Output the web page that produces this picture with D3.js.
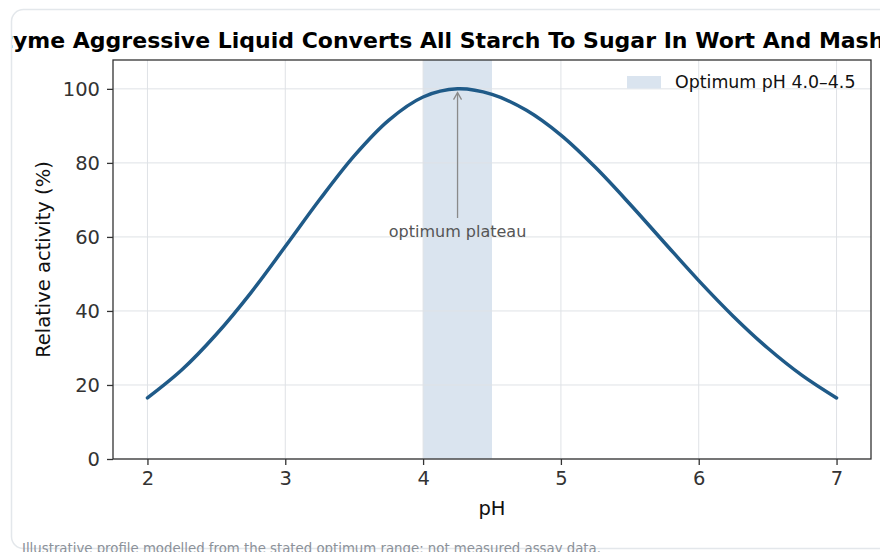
<!DOCTYPE html>
<html>
<head>
<meta charset="utf-8">
<script src="https://cdn.jsdelivr.net/npm/d3@7"></script>
<style>
  html, body { margin: 0; padding: 0; background: #fff; overflow: hidden; }
  svg { display: block; font-family: "DejaVu Sans", sans-serif; }
</style>
</head>
<body>
<svg id="chart" width="880" height="552"></svg>
<script>
// données
const phValues = [2.0, 2.25, 2.5, 2.75, 3.0, 3.25, 3.5, 3.75, 4.0, 4.25, 4.5,
                  4.75, 5.0, 5.25, 5.5, 5.75, 6.0, 6.25, 6.5, 6.75, 7.0];
const activity = [16.5, 24.1, 33.7, 44.9, 57.4, 70.1, 81.9, 91.5, 97.8, 100, 98.5,
                  94.2, 87.5, 78.8, 68.9, 58.5, 48.2, 38.6, 30.0, 22.6, 16.5];
const xTicks = [2, 3, 4, 5, 6, 7];
const yTicks = [0, 20, 40, 60, 80, 100];
const optimumBand = [4.0, 4.5];
const peak = [4.25, 99];

const titleText = "Enzyme Aggressive Liquid Converts All Starch To Sugar In Wort And Mash";
const legendText = "Optimum pH 4.0\u20134.5";
const noteText = "optimum plateau";
const footerText = "Illustrative profile modelled from the stated optimum range; not measured assay data.";

const svg = d3.select("#chart");

// cadre de la carte
svg.append("clipPath").attr("id", "cardClip")
    .append("rect").attr("x", 12).attr("y", 10).attr("width", 900).attr("height", 560);

svg.append("rect")
    .attr("x", 11.5).attr("y", 9.5)
    .attr("width", 900).attr("height", 539)
    .attr("rx", 12)
    .attr("fill", "none")
    .attr("stroke", "#e3e7eb")
    .attr("stroke-width", 1.5);

const m = { left: 113, right: 871, top: 60, bottom: 459 };

const x = d3.scaleLinear().domain([1.75, 7.25]).range([m.left, m.right]);
const y = d3.scaleLinear().domain([0, 107.8]).range([m.bottom, m.top]);

const g = svg.append("g");

// bande optimum
g.append("rect")
    .attr("x", x(optimumBand[0]))
    .attr("y", m.top)
    .attr("width", x(optimumBand[1]) - x(optimumBand[0]))
    .attr("height", m.bottom - m.top)
    .attr("fill", "#dae4ef");

// grille
g.selectAll(".gx").data(xTicks).join("line")
    .attr("x1", d => x(d)).attr("x2", d => x(d))
    .attr("y1", m.top).attr("y2", m.bottom)
    .attr("stroke", "#dfe2e6").attr("stroke-width", 1);
g.selectAll(".gy").data(yTicks).join("line")
    .attr("x1", m.left).attr("x2", m.right)
    .attr("y1", d => y(d)).attr("y2", d => y(d))
    .attr("stroke", "#dfe2e6").attr("stroke-width", 1);

// courbe
const pts = phValues.map((p, i) => [p, activity[i]]);
const line = d3.line()
    .x(d => x(d[0]))
    .y(d => y(d[1]))
    .curve(d3.curveCatmullRom.alpha(0.5));

g.append("path")
    .datum(pts)
    .attr("d", line)
    .attr("fill", "none")
    .attr("stroke", "#1f5a88")
    .attr("stroke-width", 3.5)
    .attr("stroke-linecap", "round");

// annotation
const ax = x(peak[0]);
g.append("line")
    .attr("x1", ax).attr("x2", ax)
    .attr("y1", 218).attr("y2", y(peak[1]))
    .attr("stroke", "#8a8a8a").attr("stroke-width", 1.3);
g.append("path")
    .attr("d", `M${ax - 4},${y(peak[1]) + 7} L${ax},${y(peak[1])} L${ax + 4},${y(peak[1]) + 7}`)
    .attr("fill", "none").attr("stroke", "#8a8a8a").attr("stroke-width", 1.3);
g.append("text")
    .attr("x", ax).attr("y", 237)
    .attr("text-anchor", "middle")
    .attr("font-size", 16)
    .attr("fill", "#555")
    .text(noteText);

// cadre des axes
g.append("rect")
    .attr("x", m.left).attr("y", m.top)
    .attr("width", m.right - m.left).attr("height", m.bottom - m.top)
    .attr("fill", "none").attr("stroke", "#333").attr("stroke-width", 1.3);

// axes
const xAxis = g.append("g")
    .attr("transform", `translate(0,${m.bottom})`)
    .call(d3.axisBottom(x).tickValues(xTicks).tickFormat(d3.format("d")).tickSize(6).tickPadding(6));
const yAxis = g.append("g")
    .attr("transform", `translate(${m.left},0)`)
    .call(d3.axisLeft(y).tickValues(yTicks).tickFormat(d3.format("d")).tickSize(6).tickPadding(7));

[xAxis, yAxis].forEach(a => {
    a.select(".domain").remove();
    a.selectAll(".tick line").attr("stroke", "#333").attr("stroke-width", 1.3);
    a.selectAll(".tick text")
        .attr("font-family", "DejaVu Sans, sans-serif")
        .attr("font-size", 19.5)
        .attr("fill", "#333");
});

// titres des axes
svg.append("text")
    .attr("x", (m.left + m.right) / 2).attr("y", 515)
    .attr("text-anchor", "middle")
    .attr("font-size", 19.5)
    .attr("fill", "#111")
    .text("pH");

svg.append("text")
    .attr("transform", `translate(50,${(m.top + m.bottom) / 2}) rotate(-90)`)
    .attr("text-anchor", "middle")
    .attr("font-size", 19.5)
    .attr("fill", "#111")
    .text("Relative activity (%)");

// légende
svg.append("rect")
    .attr("x", 627).attr("y", 76)
    .attr("width", 34).attr("height", 12.5)
    .attr("fill", "#dae4ef");
svg.append("text")
    .attr("x", 675).attr("y", 88)
    .attr("font-size", 17.4)
    .attr("fill", "#111")
    .text(legendText);

// titre (coupé par la carte)
const title = svg.append("g").attr("clip-path", "url(#cardClip)")
    .append("text")
    .attr("y", 48)
    .attr("font-size", 22)
    .attr("font-weight", "bold")
    .attr("fill", "#000")
    .text(titleText);
const offset = title.node().getSubStringLength(0, 3);
title.attr("x", 13 - offset);

// note de bas
svg.append("text")
    .attr("x", 22).attr("y", 553)
    .attr("font-size", 13.3)
    .attr("fill", "#8b9199")
    .text(footerText);
</script>
</body>
</html>
